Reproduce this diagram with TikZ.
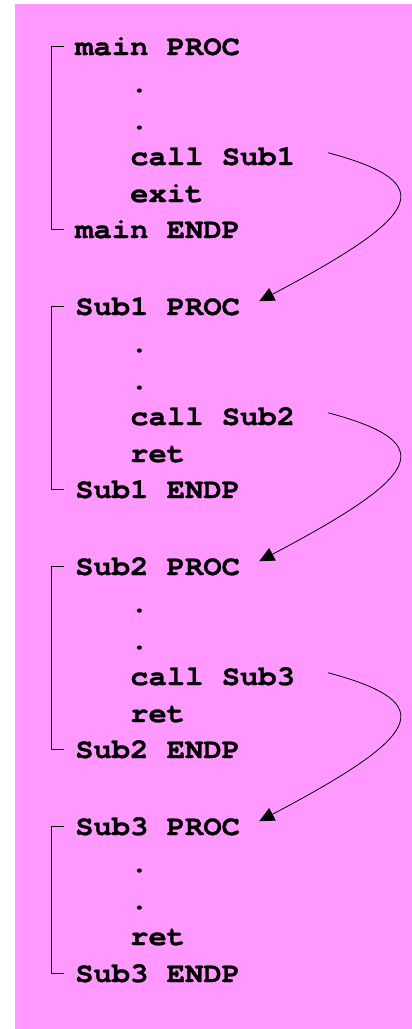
\documentclass[tikz,border=0pt]{standalone}
\usepackage{fontspec}
\usetikzlibrary{arrows.meta}
\newfontfamily\codefont{texgyrecursor-bold}[Extension=.otf, FakeStretch=1.09, FakeBold=1]
\definecolor{slide}{RGB}{255,153,255}
\tikzset{
  code/.style={anchor=base west, inner sep=0pt, font=\codefont\fontsize{28}{28}\selectfont},
  bracket/.style={line width=0.9pt},
  callarrow/.style={line width=0.8pt, -{Triangle[length=15pt,width=14pt]}},
}
\begin{document}
\begin{tikzpicture}[x=1pt, y=-1pt]
\useasboundingbox (0,0) rectangle (412,1029);
\fill[slide] (15,4) rectangle (412,1029);

% main procedure
\node[code] (mp)  at (75,55)    {main PROC};
\node[code] (md1) at (130,92)   {.};
\node[code] (md2) at (130,129)  {.};
\node[code] (mc)  at (130,165)  {call Sub1};
\node[code] (mx)  at (130,202)  {exit};
\node[code] (me)  at (75,238)   {main ENDP};

% Sub1
\node[code] (ap)  at (75,315)   {Sub1 PROC};
\node[code] (ad1) at (130,352)  {.};
\node[code] (ad2) at (130,389)  {.};
\node[code] (ac)  at (130,425)  {call Sub2};
\node[code] (ar)  at (130,462)  {ret};
\node[code] (ae)  at (75,498)   {Sub1 ENDP};

% Sub2
\node[code] (bp)  at (75,575)   {Sub2 PROC};
\node[code] (bd1) at (130,612)  {.};
\node[code] (bd2) at (130,649)  {.};
\node[code] (bc)  at (130,685)  {call Sub3};
\node[code] (br)  at (130,722)  {ret};
\node[code] (be)  at (75,758)   {Sub2 ENDP};

% Sub3
\node[code] (cp)  at (75,835)   {Sub3 PROC};
\node[code] (cd1) at (130,872)  {.};
\node[code] (cd2) at (130,909)  {.};
\node[code] (cr)  at (130,945)  {ret};
\node[code] (ce)  at (75,982)   {Sub3 ENDP};

% brackets marking each procedure body
\foreach \p/\e in {mp/me, ap/ae, bp/be, cp/ce}
  \draw[bracket] ([xshift=-11pt]\p.west) -- ++(-13,0) |- ([xshift=-11pt]\e.west);

% calls
\foreach \c/\t in {mc/ap, ac/bp, bc/cp}
  \draw[callarrow] ([xshift=33pt,yshift=3.5pt]\c.east)
     .. controls +(116,31) and +(159,-84) .. ([xshift=19pt,yshift=5pt]\t.east);
\end{tikzpicture}
\end{document}
